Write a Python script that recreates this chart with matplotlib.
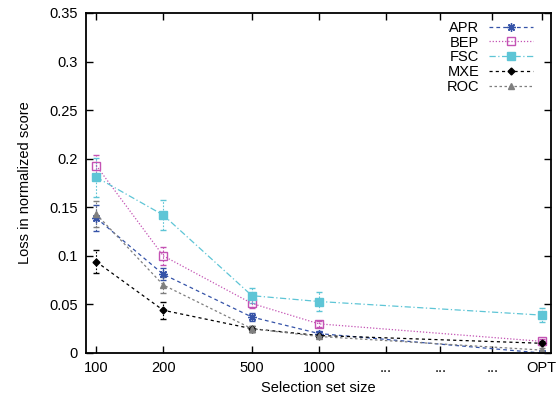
import matplotlib
matplotlib.use("agg")
import matplotlib.pyplot as plt
from matplotlib.lines import Line2D

# x positions (log scale); the "..." ticks are filler ticks
sizes = [100, 200, 500, 1000, 10000]
tick_pos = [100, 200, 500, 1000, 2000, 3500, 6000, 10000]
tick_labels = ["100", "200", "500", "1000", "...", "...", "...", "OPT"]

apr = [0.139, 0.081, 0.037, 0.020, 0.0]
apr_err = [0.013, 0.006, 0.004, 0.003, 0.002]
bep = [0.193, 0.100, 0.051, 0.030, 0.012]
bep_err = [0.011, 0.009, 0.005, 0.003, 0.002]
fsc = [0.181, 0.142, 0.059, 0.053, 0.039]
fsc_err = [0.020, 0.015, 0.008, 0.010, 0.007]
mxe = [0.094, 0.044, 0.025, 0.018, 0.010]
mxe_err = [0.012, 0.009, 0.003, 0.002, 0.002]
roc = [0.143, 0.070, 0.025, 0.017, 0.003]
roc_err = [0.013, 0.008, 0.003, 0.002, 0.002]

plt.rcParams['font.family'] = ['Liberation Sans', 'DejaVu Sans']
plt.rcParams['font.size'] = 10.5

fig = plt.figure(figsize=(5.56, 4.0), dpi=100)
ax = fig.add_axes([0.1547, 0.1175, 0.8363, 0.85])

series = [
    ("APR", apr, apr_err, "#3553a8", (0, (3, 2.5)), (8, 2, 0), 6, "#3553a8"),
    ("BEP", bep, bep_err, "#c453b4", (0, (1, 1.5)), "s", 5.5, "none"),
    ("FSC", fsc, fsc_err, "#5ec5d6", (0, (5, 2, 1, 2)), "s", 5.5, "#5ec5d6"),
    ("MXE", mxe, mxe_err, "#000000", (0, (2.5, 2.5)), "D", 3.5, "#000000"),
    ("ROC", roc, roc_err, "#7f7f7f", (0, (2, 2)), "^", 4.5, "#7f7f7f"),
]

handles = []
for name, vals, errs, col, ls, mk, ms, mfc in series:
    eb = ax.errorbar(sizes, vals, yerr=errs, color=col, linestyle=ls, linewidth=0.9,
                     marker=mk, markersize=ms, markerfacecolor=mfc,
                     markeredgecolor=col, markeredgewidth=1.0,
                     capsize=2.5, elinewidth=0.8)
    for bar in eb[2]:
        bar.set_linestyle((0, (1.5, 1.5)))
    handles.append(Line2D([], [], color=col, linestyle=ls, linewidth=0.9,
                          marker=mk, markersize=ms, markerfacecolor=mfc,
                          markeredgecolor=col, label=name))

ax.set_xscale("log")
ax.set_xlim(90, 11000)
ax.set_ylim(0, 0.35)
ax.set_xticks(tick_pos)
ax.set_xticklabels(tick_labels)
ax.minorticks_off()
ax.set_yticks([0, 0.05, 0.1, 0.15, 0.2, 0.25, 0.3, 0.35])
ax.set_yticklabels(["0", "0.05", "0.1", "0.15", "0.2", "0.25", "0.3", "0.35"])
ax.tick_params(direction="in", length=5, width=1, top=True, right=True, pad=6)
for s in ax.spines.values():
    s.set_linewidth(1.3)

ax.set_xlabel("Selection set size", labelpad=4)
ax.set_ylabel("Loss in normalized score", labelpad=12)

leg = ax.legend(handles=handles, loc="upper right", bbox_to_anchor=(0.974, 0.994),
                markerfirst=False, frameon=False, borderaxespad=0,
                handlelength=3.0, labelspacing=0.05,
                handletextpad=0.7, fontsize=10.5)

fig.savefig("out.png", dpi=100)
